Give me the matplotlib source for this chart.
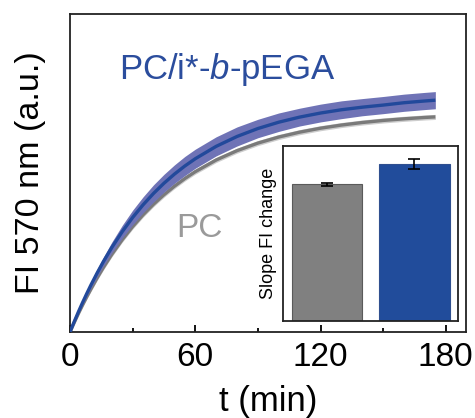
import matplotlib
matplotlib.use("Agg")
import matplotlib.pyplot as plt
import numpy as np

plt.rcParams['font.family'] = ['Liberation Sans', 'DejaVu Sans']
plt.rcParams['mathtext.fontset'] = 'custom'
plt.rcParams['mathtext.rm'] = 'Liberation Sans'
plt.rcParams['mathtext.it'] = 'Liberation Sans:italic'

# Fluorescence kinetics (time in min, intensity in a.u.)
t_min = [0, 1, 2, 4, 6, 8, 10, 13, 16, 20, 25, 30, 35, 40, 45, 50, 55, 60,
         70, 80, 90, 100, 110, 120, 130, 140, 150, 160, 170, 175]
fi_block = [0, 0.0163, 0.0322, 0.063, 0.0924, 0.1205, 0.1475, 0.1857, 0.2215,
            0.2655, 0.3154, 0.3601, 0.4000, 0.4358, 0.4678, 0.4964, 0.5220,
            0.5449, 0.5838, 0.6149, 0.6399, 0.6598, 0.6758, 0.6886, 0.6989,
            0.7070, 0.7136, 0.7210, 0.7265, 0.7290]
fi_block_sd = [0, 0.001, 0.002, 0.004, 0.006, 0.008, 0.010, 0.012, 0.014,
               0.017, 0.020, 0.023, 0.025, 0.027, 0.028, 0.029, 0.030, 0.030,
               0.030, 0.030, 0.029, 0.029, 0.028, 0.028, 0.028, 0.027, 0.027,
               0.027, 0.027, 0.027]
fi_pc = [0, 0.0149, 0.0294, 0.0577, 0.0846, 0.1104, 0.1351, 0.1703, 0.2032,
         0.2440, 0.2901, 0.3315, 0.3687, 0.4019, 0.4317, 0.4585, 0.4826,
         0.5042, 0.5409, 0.5703, 0.5941, 0.6132, 0.6285, 0.6409, 0.6508,
         0.6588, 0.6653, 0.6704, 0.6747, 0.6764]
fi_pc_sd = [0, 0.002, 0.003, 0.005, 0.006, 0.007, 0.008, 0.008, 0.008, 0.008,
            0.008, 0.008, 0.008, 0.008, 0.008, 0.008, 0.008, 0.008, 0.008,
            0.008, 0.008, 0.008, 0.008, 0.008, 0.008, 0.008, 0.008, 0.008,
            0.008, 0.008]

# Inset: slope of fluorescence change
bar_labels = ['PC', 'PC/i*-b-pEGA']
slopes = [0.779, 0.895]
slopes_err = [0.010, 0.031]

x_ticks = [0, 60, 120, 180]

BLUE = '#22499b'
BAND = '#6f73b6'
GREY_LINE = '#7a7a7a'
GREY_BAND = '#cdcdcd'

fig = plt.figure(figsize=(4.75, 4.18), dpi=100)
ax = fig.add_axes([0.1474, 0.2057, 0.8337, 0.7608])

t = np.array(t_min)
pc = np.array(fi_pc)
pc_sd = np.array(fi_pc_sd)
blk = np.array(fi_block)
blk_sd = np.array(fi_block_sd)

ax.fill_between(t, pc - pc_sd, pc + pc_sd, color=GREY_BAND, lw=0, zorder=1)
ax.plot(t, pc, color=GREY_LINE, lw=2.4, solid_capstyle='butt', zorder=2)
ax.fill_between(t, blk - blk_sd, blk + blk_sd, color=BAND, lw=0, zorder=3)
ax.plot(t, blk, color=BLUE, lw=2.4, solid_capstyle='butt', zorder=4)

ax.set_xlim(0, 189.7)
ax.set_ylim(0, 1)
ax.set_xticks(x_ticks)
ax.set_xticks([30, 90, 150], minor=True)
ax.set_yticks([])
ax.tick_params(axis='x', which='major', direction='in', length=5, width=1.3,
               labelsize=24, pad=7)
ax.tick_params(axis='x', which='minor', direction='in', length=3, width=1.3)
for s in ax.spines.values():
    s.set_linewidth(1.3)
    s.set_color('#222222')

ax.set_xlabel('t (min)', fontsize=25, labelpad=9)
ax.set_ylabel('FI 570 nm (a.u.)', fontsize=24.5, labelpad=17)

ax.text(23.5, 0.796, 'PC/i*-$\\mathit{b}$-pEGA', color='#2b4d9d', fontsize=25,
        ha='left', va='baseline')
ax.text(50.8, 0.299, 'PC', color='#9a9a9a', fontsize=24, ha='left',
        va='baseline')

# Inset bar chart
ins = fig.add_axes([0.5952, 0.2328, 0.3697, 0.4187])
ins.bar([0, 1], slopes, width=0.8, color=['#808080', '#214c9b'],
        edgecolor=['#5a5a5a', '#2f4f8f'], linewidth=0.8)
ins.errorbar([0, 1], slopes, yerr=slopes_err, fmt='none', ecolor='black',
             elinewidth=1.2, capsize=4, capthick=1.2)
ins.set_xlim(-0.5, 1.5)
ins.set_ylim(0, 1)
ins.set_xticks([])
ins.set_yticks([])
for s in ins.spines.values():
    s.set_linewidth(1.3)
    s.set_color('#222222')
ins.set_ylabel('Slope FI change', fontsize=13, labelpad=4)

fig.savefig('out.png', dpi=100)
